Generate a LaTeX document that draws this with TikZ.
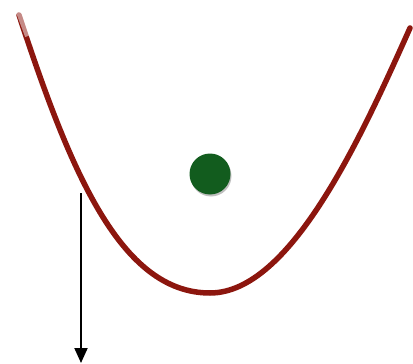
\documentclass[tikz,border=0pt]{standalone}
\usetikzlibrary{arrows.meta,positioning}
\definecolor{bowlred}{RGB}{140,22,14}
\definecolor{ballgreen}{RGB}{18,92,30}

\begin{document}
\begin{tikzpicture}[x=1pt,y=-1pt,>={Triangle[width=13pt,length=15pt]}]
\useasboundingbox (0,0) rectangle (413,364);
% ---------------- bowl ----------------
\coordinate (leftrim) at (19,15);
\coordinate (bottom) at (210,293);
\coordinate (rightrim) at (410,28);
\draw[bowlred,line width=5.5pt,line cap=round]
   (leftrim) .. controls (70,170) and (120,293) .. (bottom)
   .. controls (290,293) and (360,140) .. (rightrim);
\draw[white,opacity=0.5,line width=6pt] (19,12) -- (28,36);
% ---------------- ball ----------------
\node[circle,fill=black!25,minimum size=41pt,inner sep=0pt] (shadow) at (211,176) {};
\node[circle,fill=ballgreen,minimum size=41pt,inner sep=0pt] (ball) at (210,174) {};
% ---------------- push ----------------
\coordinate (start) at (81,193);
\coordinate (stop) at (81,363);
\draw[->,line width=2pt] (start) -- (stop);
\end{tikzpicture}
\end{document}
